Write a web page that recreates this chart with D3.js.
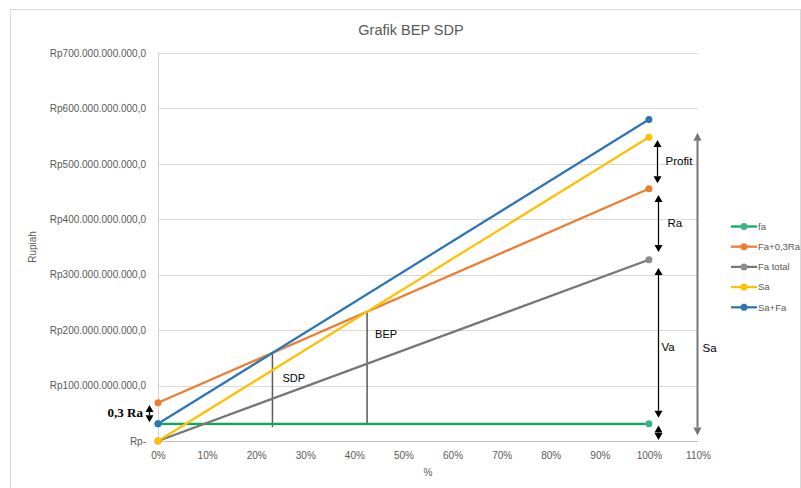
<!DOCTYPE html>
<html><head><meta charset="utf-8">
<script src="https://cdn.jsdelivr.net/npm/d3@7"></script>
<style>body{margin:0;background:#fff}svg{display:block}</style>
</head><body>
<svg id="c" width="801" height="488"></svg>
<script>
// ---- data ----
const xValues = [0, 1];                 // 0% and 100%
const seriesNames = ["fa", "Fa+0,3Ra", "Fa total", "Sa", "Sa+Fa"];
const faVals      = [31e9, 31e9];
const faRaVals    = [69e9, 455e9];
const faTotalVals = [0, 327e9];
const saVals      = [0, 548e9];
const saFaVals    = [31e9, 580e9];
const yTicks = [0, 100e9, 200e9, 300e9, 400e9, 500e9, 600e9, 700e9];
const xTicks = [0, .1, .2, .3, .4, .5, .6, .7, .8, .9, 1, 1.1];
// annotation arrows: [x, yFrom, yTo, label, labelValue]
const arrowsBlack = [
  [-0.018, 65e9, 34e9, "", 0],
  [1.016, 543e9, 465e9, "Profit", 505e9],
  [1.018, 444e9, 341e9, "Ra", 393e9],
  [1.018, 312e9, 42e9, "Va", 170e9],
  [1.018, 28e9, 2e9, "", 0]
];
const arrowSa = [1.098, 556e9, 10e9, "Sa", 168e9];
const sdpLabelValue = 113e9, bepLabelValue = 193e9;

const colors = ["#00B050", "#ED7D31", "#767676", "#FFC000", "#2E75B6"];
const markerColors = ["#3DB08C", "#ED7D31", "#8C8C8C", "#FFC000", "#2E75B6"];
const allSeries = [faVals, faRaVals, faTotalVals, saVals, saFaVals];

const svg = d3.select("#c");
const font = "'Liberation Sans', Arial, sans-serif";
const x = d3.scaleLinear().domain([0, 1.1]).range([158, 698]);
const y = d3.scaleLinear().domain([0, 700e9]).range([441, 53]);

// outer border
svg.append("rect").attr("x", 10.5).attr("y", 9.5).attr("width", 790).attr("height", 500)
  .attr("fill", "#fff").attr("stroke", "#d9d9d9");

// title
svg.append("text").attr("x", 411).attr("y", 35).attr("text-anchor", "middle")
  .attr("font-family", font).attr("font-size", 14.5).attr("fill", "#595959").text("Grafik BEP SDP");

// gridlines
svg.append("g").selectAll("line").data(yTicks.filter(d => d > 0)).join("line")
  .attr("x1", x(0)).attr("x2", x(1.1)).attr("y1", d => Math.round(y(d)) + .5).attr("y2", d => Math.round(y(d)) + .5)
  .attr("stroke", "#d9d9d9").attr("stroke-width", 1);

// axes lines
svg.append("line").attr("x1", x(0)).attr("x2", x(1.1)).attr("y1", y(0) + .5).attr("y2", y(0) + .5).attr("stroke", "#bfbfbf");
svg.append("line").attr("x1", x(0) + .5).attr("x2", x(0) + .5).attr("y1", y(700e9)).attr("y2", y(0)).attr("stroke", "#d0d0d0");

const fmtRp = d => d === 0 ? "Rp-" : "Rp" + d3.format(",")(d).replace(/,/g, ".") + ",0";
const yAxis = svg.append("g").attr("transform", `translate(${x(0)},0)`)
  .call(d3.axisLeft(y).tickValues(yTicks).tickFormat(fmtRp).tickSize(0).tickPadding(12));
yAxis.select(".domain").remove();
yAxis.selectAll("text").attr("font-family", font).attr("font-size", 10).attr("fill", "#595959");

const xAxis = svg.append("g").attr("transform", `translate(0,${y(0)})`)
  .call(d3.axisBottom(x).tickValues(xTicks).tickFormat(d3.format(".0%")).tickSize(0).tickPadding(11));
xAxis.select(".domain").remove();
xAxis.selectAll("text").attr("font-family", font).attr("font-size", 10).attr("fill", "#595959");

// axis titles
svg.append("text").attr("transform", "translate(36,247) rotate(-90)").attr("text-anchor", "middle")
  .attr("font-family", font).attr("font-size", 10).attr("fill", "#595959").text("Rupiah");
svg.append("text").attr("x", 428).attr("y", 476).attr("text-anchor", "middle")
  .attr("font-family", font).attr("font-size", 10).attr("fill", "#595959").text("%");

// intersection helpers for SDP / BEP verticals
function cross(a, b) {
  const sa_ = a[1] - a[0], sb_ = b[1] - b[0];
  const t = (b[0] - a[0]) / (sa_ - sb_);
  return [t, a[0] + sa_ * t];
}
const sdp = cross(saFaVals, faRaVals);
const bep = cross(saVals, faRaVals);
svg.append("line").attr("x1", x(sdp[0])).attr("x2", x(sdp[0])).attr("y1", y(sdp[1])).attr("y2", y(25e9))
  .attr("stroke", "#595959").attr("stroke-width", 1.5);
svg.append("line").attr("x1", x(bep[0])).attr("x2", x(bep[0])).attr("y1", y(bep[1])).attr("y2", y(31e9))
  .attr("stroke", "#595959").attr("stroke-width", 1.5);
svg.append("text").attr("x", x(sdp[0]) + 10).attr("y", y(sdpLabelValue)).attr("dy", "0.35em").attr("font-family", font)
  .attr("font-size", 11).attr("fill", "#000").text("SDP");
svg.append("text").attr("x", x(bep[0]) + 8).attr("y", y(bepLabelValue)).attr("dy", "0.35em").attr("font-family", font)
  .attr("font-size", 11).attr("fill", "#000").text("BEP");

// series lines
const line = d3.line().x((d, i) => x(xValues[i])).y(d => y(d));
allSeries.forEach((s, k) => {
  svg.append("path").attr("d", line(s)).attr("fill", "none").attr("stroke", colors[k]).attr("stroke-width", 2.25);
});
allSeries.forEach((s, k) => {
  svg.append("g").selectAll("circle").data(s).join("circle")
    .attr("cx", (d, i) => x(xValues[i])).attr("cy", d => y(d)).attr("r", 3.5)
    .attr("fill", markerColors[k]);
});

// arrows
function arrow(ax, y1v, y2v, color, w, head) {
  const px = Math.round(x(ax)) + .5, p1 = y(y1v), p2 = y(y2v);
  const dir = p2 > p1 ? 1 : -1;
  svg.append("line").attr("x1", px).attr("x2", px).attr("y1", p1 + dir * head).attr("y2", p2 - dir * head)
    .attr("stroke", color).attr("stroke-width", w);
  svg.append("path").attr("d", `M${px},${p1} L${px - 4},${p1 + dir * head} L${px + 4},${p1 + dir * head} Z`).attr("fill", color);
  svg.append("path").attr("d", `M${px},${p2} L${px - 4},${p2 - dir * head} L${px + 4},${p2 - dir * head} Z`).attr("fill", color);
  return px;
}
arrowsBlack.forEach(a => {
  const px = arrow(a[0], a[1], a[2], "#000", 1.25, 7);
  if (a[3]) {
    const dx = a[3] === "Va" ? 3 : (a[3] === "Profit" ? 8 : 9);
    svg.append("text").attr("x", px + dx).attr("y", y(a[4])).attr("dy", "0.35em").attr("font-family", font)
      .attr("font-size", 11.5).attr("fill", "#000").text(a[3]);
  }
});
{
  const px = arrow(arrowSa[0], arrowSa[1], arrowSa[2], "#767676", 2, 8);
  svg.append("text").attr("x", px + 5).attr("y", y(arrowSa[4])).attr("dy", "0.35em").attr("font-family", font)
    .attr("font-size", 11.5).attr("fill", "#000").text(arrowSa[3]);
}
svg.append("text").attr("x", 143).attr("y", 417).attr("text-anchor", "end")
  .attr("font-family", "'Liberation Serif', 'Times New Roman', serif").attr("font-weight", "bold")
  .attr("font-size", 13).attr("fill", "#000").text("0,3 Ra");

// legend
const lg = svg.append("g").selectAll("g").data(seriesNames).join("g")
  .attr("transform", (d, i) => `translate(731,${226.5 + i * 20.2})`);
lg.append("line").attr("x1", 0).attr("x2", 26).attr("stroke", (d, i) => colors[i]).attr("stroke-width", 2.25);
lg.append("circle").attr("cx", 13).attr("r", 3.5).attr("fill", (d, i) => markerColors[i]);
lg.append("text").attr("x", 27).attr("dy", "0.35em").attr("font-family", font).attr("font-size", 9.5)
  .attr("fill", "#595959").text(d => d);
</script>
</body></html>
